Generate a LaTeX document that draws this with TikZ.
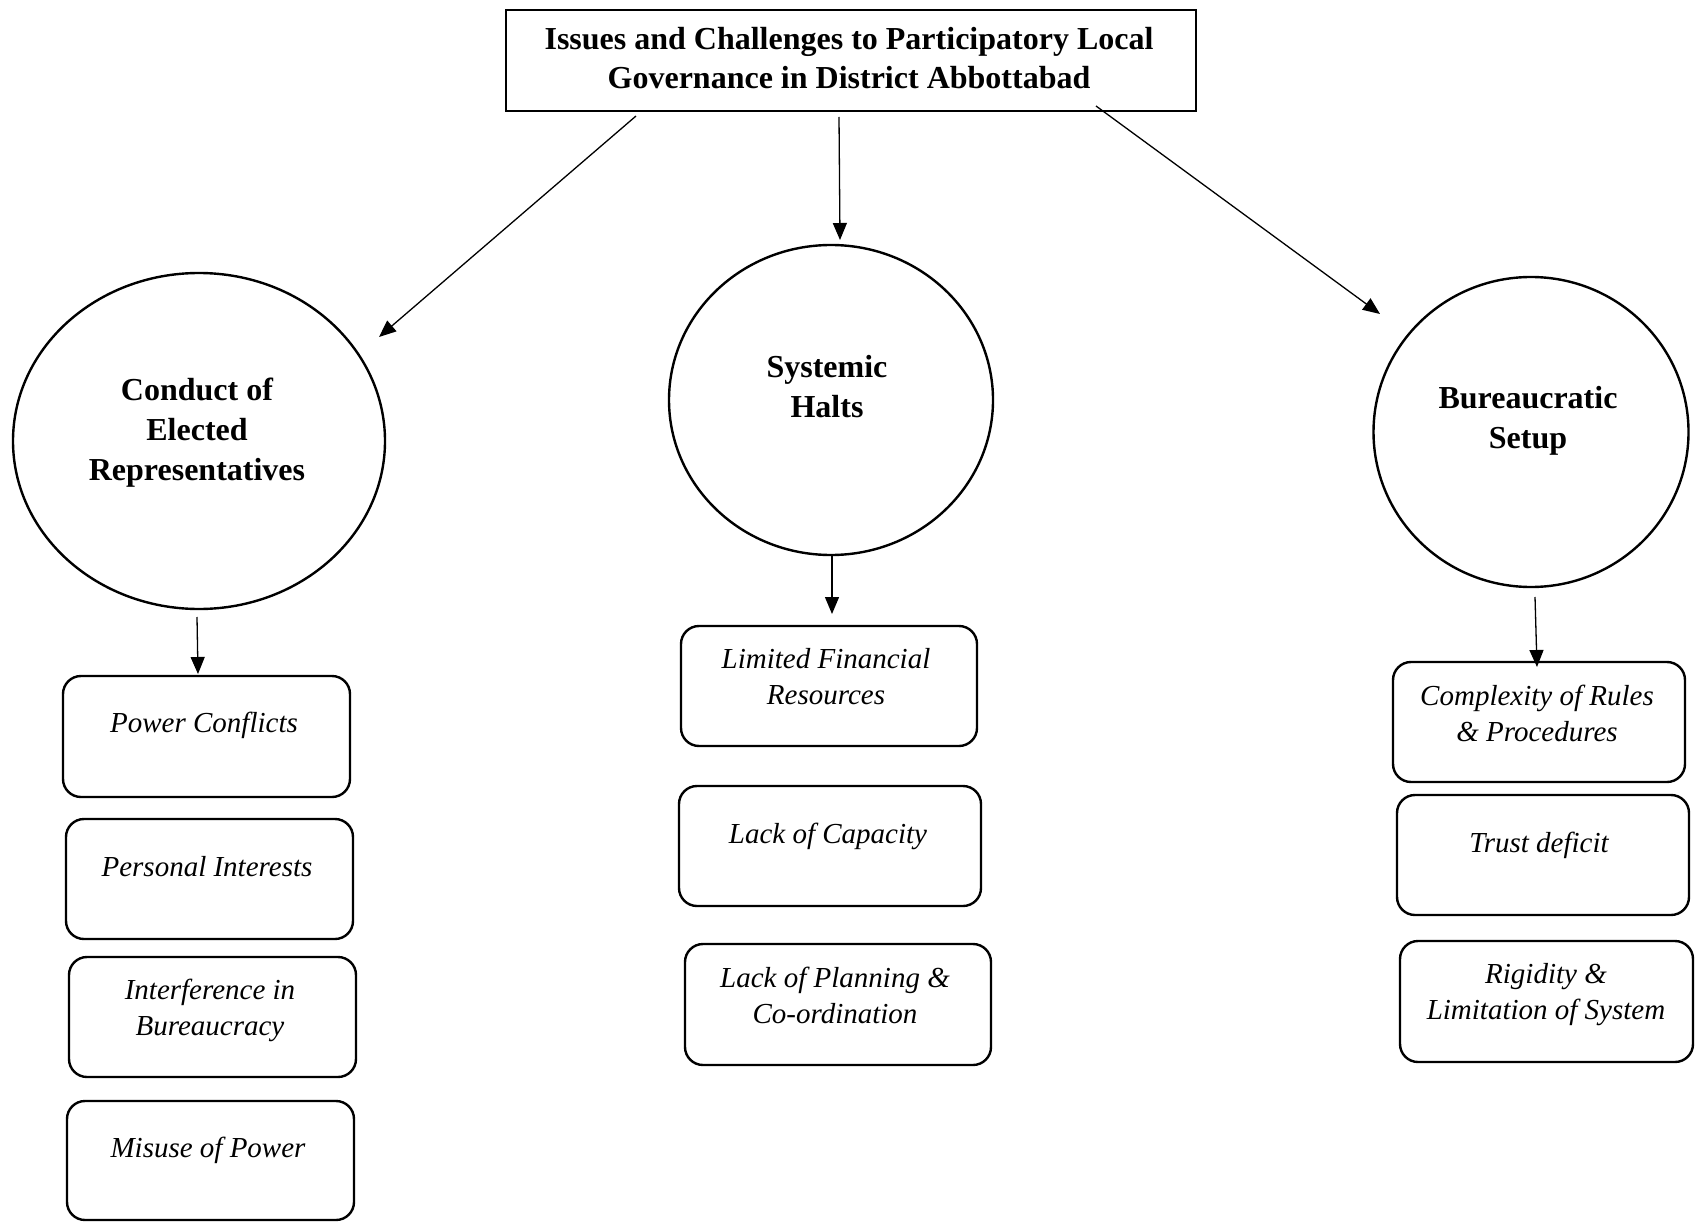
\documentclass[tikz,border=0pt]{standalone}
\usepackage{fontspec}
\setmainfont{Liberation Serif}
\usetikzlibrary{shapes.geometric,arrows.meta}
\begin{document}
\begin{tikzpicture}[x=1pt,y=-1pt,
  every node/.style={inner sep=0pt, outer sep=0pt},
  headbox/.style={draw, rectangle, line width=2.8pt},
  topic/.style={draw, ellipse, line width=2.4pt},
  itembox/.style={draw, rectangle, rounded corners=18pt, line width=2.4pt},
  headtxt/.style={align=center, font=\fontsize{32}{39.5}\selectfont\bfseries},
  topictxt/.style={align=center, font=\fontsize{32}{40}\selectfont\bfseries},
  itemtxt/.style={align=center, font=\fontsize{29}{36}\selectfont\itshape},
  link/.style={line width=1.3pt, -{Triangle[length=17pt,width=14pt]}}
]
\fill[white] (0,0) rectangle (1696,1222);
\useasboundingbox (0,0) rectangle (1696,1222);

% title
\node[headbox, minimum width=690, minimum height=101] (title) at (851,60.5) {};
\node[headtxt] (titletxt) at (849,58) {Issues and Challenges to Participatory Local\\Governance in District Abbottabad};

% topics
\node[topic, minimum width=372, minimum height=336] (c1) at (199,441) {};
\node[topictxt] (c1t) at (197,433) {Conduct of\\Elected\\Representatives};
\node[topic, minimum width=324, minimum height=310] (c2) at (831,400) {};
\node[topictxt] (c2t) at (827,387) {Systemic\\Halts};
\node[topic, minimum width=315, minimum height=310] (c3) at (1531,432) {};
\node[topictxt] (c3t) at (1528,421) {Bureaucratic\\Setup};

% left column
\node[itembox, minimum width=287, minimum height=121] (b1) at (206.5,736.5) {};
\node[itemtxt] (b1t) at (204,725.5) {Power Conflicts};
\node[itembox, minimum width=287, minimum height=120] (b2) at (209.5,879) {};
\node[itemtxt] (b2t) at (207,867) {Personal Interests};
\node[itembox, minimum width=287, minimum height=120] (b3) at (212.5,1017) {};
\node[itemtxt] (b3t) at (210,1010) {Interference in\\Bureaucracy};
\node[itembox, minimum width=287, minimum height=119] (b4) at (210.5,1160.5) {};
\node[itemtxt] (b4t) at (208,1150.5) {Misuse of Power};

% middle column
\node[itembox, minimum width=296, minimum height=120] (m1) at (829,686) {};
\node[itemtxt] (m1t) at (826,677) {Limited Financial\\Resources};
\node[itembox, minimum width=302, minimum height=120] (m2) at (830,846) {};
\node[itemtxt] (m2t) at (828,836.5) {Lack of Capacity};
\node[itembox, minimum width=306, minimum height=121] (m3) at (838,1004.5) {};
\node[itemtxt] (m3t) at (835,995.5) {Lack of Planning \&\\Co-ordination};

% right column
\node[itembox, minimum width=292, minimum height=120] (r1) at (1539,722) {};
\node[itemtxt] (r1t) at (1537,713.5) {Complexity of Rules\\\& Procedures};
\node[itembox, minimum width=292, minimum height=120] (r2) at (1543,855) {};
\node[itemtxt] (r2t) at (1539,845.5) {Trust deficit};
\node[itembox, minimum width=293, minimum height=121] (r3) at (1546.5,1001.5) {};
\node[itemtxt] (r3t) at (1546,995) {Rigidity \&\\Limitation of System};

% connector ends
\coordinate (a1s) at (636,116);  \coordinate (a1e) at (379,337);
\coordinate (a2s) at (839,117);  \coordinate (a2e) at (840,240);
\coordinate (a3s) at (1096,106); \coordinate (a3e) at (1380,314);
\coordinate (a4s) at (197,617);  \coordinate (a4e) at (198,674);
\coordinate (a5s) at (832,556);  \coordinate (a5e) at (832,614);
\coordinate (a6s) at (1535,597); \coordinate (a6e) at (1537,667);

\draw[link] (a1s) -- (a1e);
\draw[link] (a2s) -- (a2e);
\draw[link] (a3s) -- (a3e);
\draw[link] (a4s) -- (a4e);
\draw[link] (a5s) -- (a5e);
\draw[link] (a6s) -- (a6e);
\end{tikzpicture}
\end{document}
